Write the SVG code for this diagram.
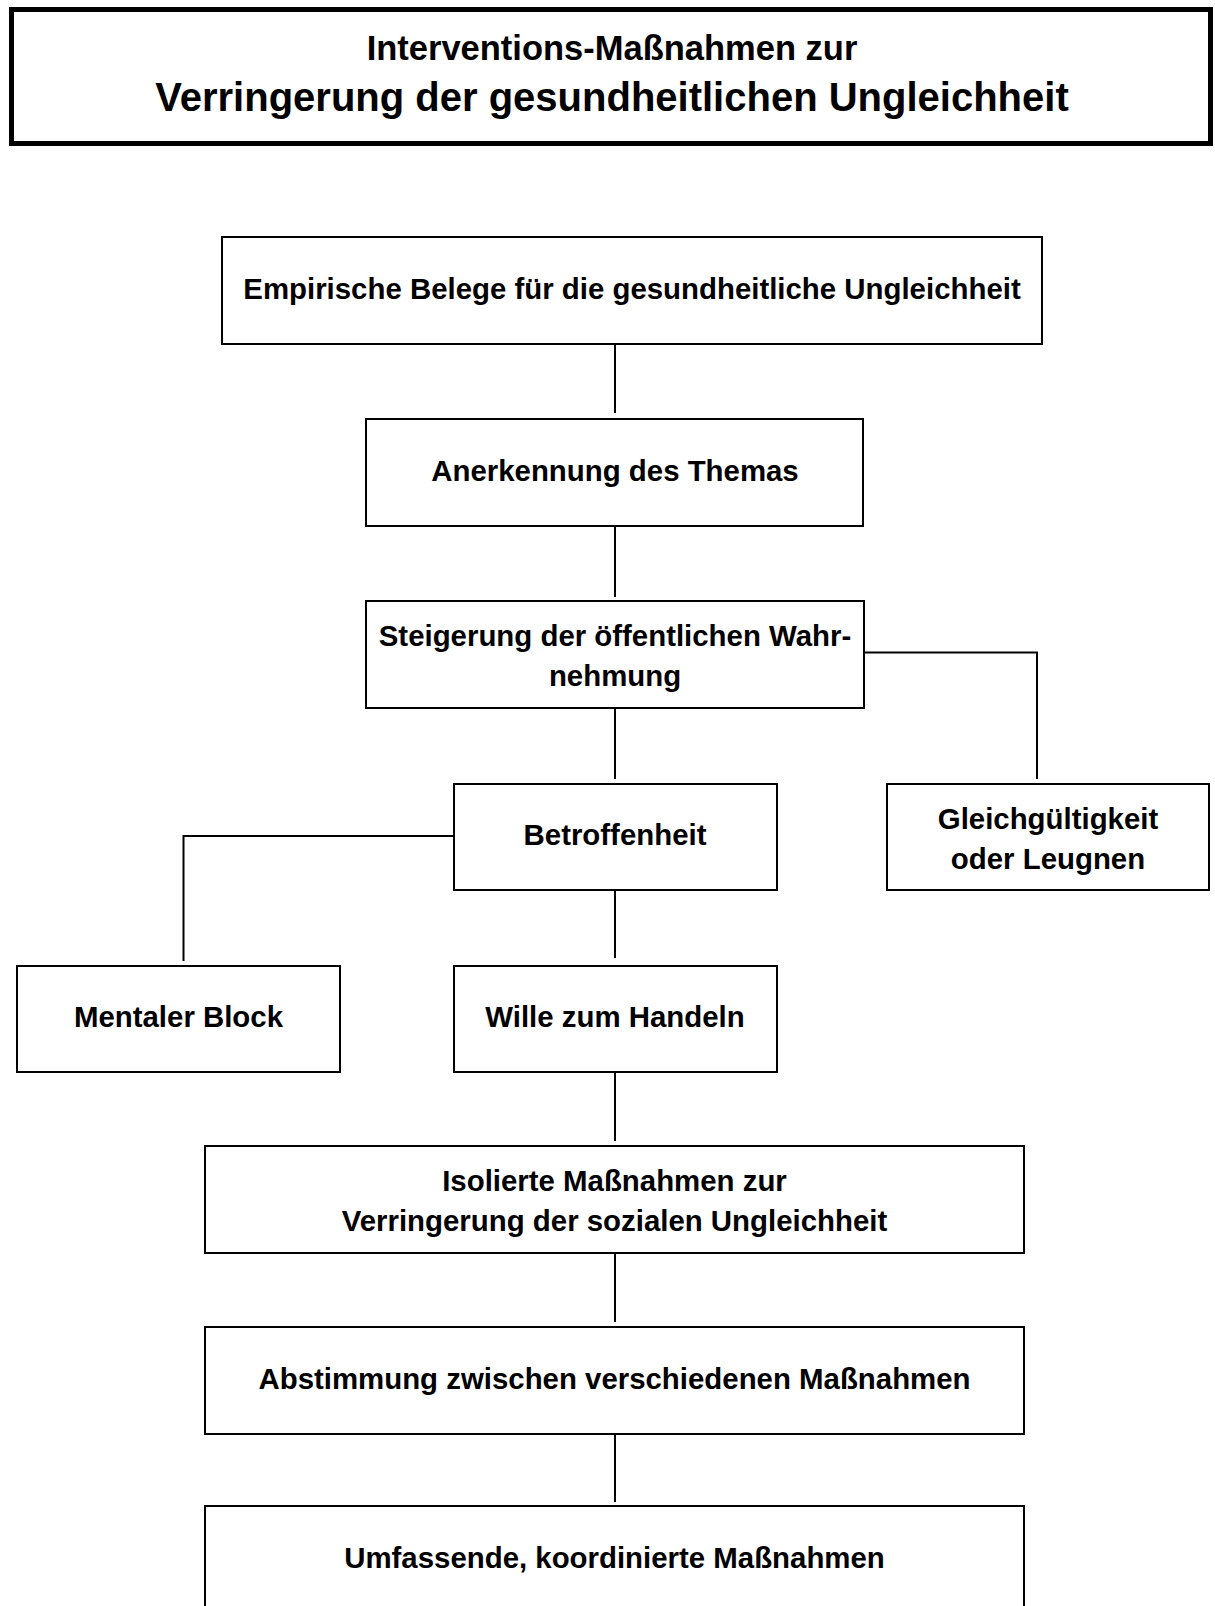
<svg xmlns="http://www.w3.org/2000/svg" width="1215" height="1606" viewBox="0 0 1215 1606">
<style>
.box{fill:#fff;stroke:#000;stroke-width:2}
.title{fill:#fff;stroke:#000;stroke-width:5}
.t{font-family:"Liberation Sans",Arial,sans-serif;font-weight:bold;font-size:29.4px;fill:#000;text-anchor:middle}
.conn{fill:none;stroke:#000;stroke-width:2}
</style>
<rect width="1215" height="1606" fill="#fff"/>
<g id="title">
<rect class="title" x="11.5" y="9.5" width="1199" height="134"/>
<text class="t" x="612" y="60" style="font-size:34.5px">Interventions-Maßnahmen zur</text>
<text class="t" x="612" y="111" style="font-size:40px">Verringerung der gesundheitlichen Ungleichheit</text>
</g>
<g id="connectors">
<path class="conn" d="M615 344V413"/>
<path class="conn" d="M615 527V597"/>
<path class="conn" d="M615 708V779"/>
<path class="conn" d="M864 652.5H1037V779"/>
<path class="conn" d="M454 836H183.5V961"/>
<path class="conn" d="M615 890V958"/>
<path class="conn" d="M615 1072V1141"/>
<path class="conn" d="M615 1253V1322"/>
<path class="conn" d="M615 1434V1502"/>
</g>
<g id="n1"><rect class="box" x="222" y="237" width="820" height="107"/><text class="t" x="632" y="299">Empirische Belege für die gesundheitliche Ungleichheit</text></g>
<g id="n2"><rect class="box" x="366" y="419" width="497" height="107"/><text class="t" x="615" y="481">Anerkennung des Themas</text></g>
<g id="n3"><rect class="box" x="366" y="601" width="498" height="107"/><text class="t" x="615" y="646">Steigerung der öffentlichen Wahr-</text><text class="t" x="615" y="686">nehmung</text></g>
<g id="n4"><rect class="box" x="454" y="784" width="323" height="106"/><text class="t" x="615" y="845">Betroffenheit</text></g>
<g id="n5"><rect class="box" x="887" y="784" width="322" height="106"/><text class="t" x="1048" y="829">Gleichgültigkeit</text><text class="t" x="1048" y="869">oder Leugnen</text></g>
<g id="n6"><rect class="box" x="17" y="966" width="323" height="106"/><text class="t" x="178.5" y="1027">Mentaler Block</text></g>
<g id="n7"><rect class="box" x="454" y="966" width="323" height="106"/><text class="t" x="615" y="1027">Wille zum Handeln</text></g>
<g id="n8"><rect class="box" x="205" y="1146" width="819" height="107"/><text class="t" x="614.5" y="1191">Isolierte Maßnahmen zur</text><text class="t" x="614.5" y="1231">Verringerung der sozialen Ungleichheit</text></g>
<g id="n9"><rect class="box" x="205" y="1327" width="819" height="107"/><text class="t" x="614.5" y="1389">Abstimmung zwischen verschiedenen Maßnahmen</text></g>
<g id="n10"><rect class="box" x="205" y="1506" width="819" height="120"/><text class="t" x="614.5" y="1568">Umfassende, koordinierte Maßnahmen</text></g>
</svg>
